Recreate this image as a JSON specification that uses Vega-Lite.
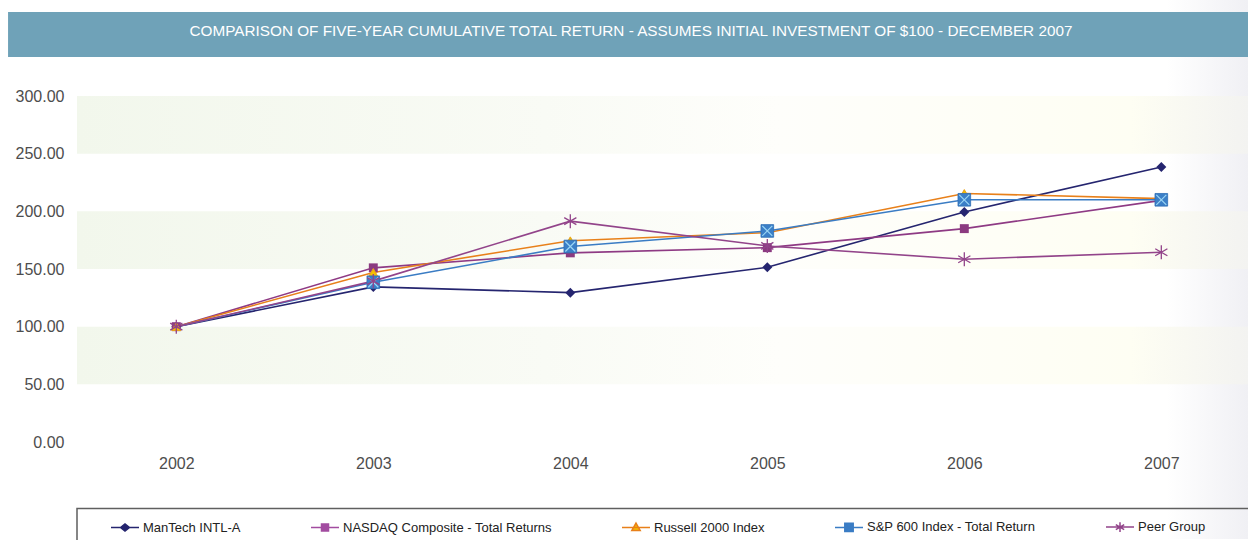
{
  "$schema": "https://vega.github.io/schema/vega-lite/v6.json",
  "width": 1171,
  "height": 346,
  "autosize": "none",
  "padding": {"left": 77, "top": 96, "right": 0, "bottom": 98},
  "background": "white",
  "config": {"view": {"stroke": null}, "font": "Liberation Sans, sans-serif"},
  "datasets": {
    "returns": [
      {"year": 2002, "series": "ManTech INTL-A", "value": 100},
      {"year": 2003, "series": "ManTech INTL-A", "value": 134.5},
      {"year": 2004, "series": "ManTech INTL-A", "value": 129.5},
      {"year": 2005, "series": "ManTech INTL-A", "value": 151.5},
      {"year": 2006, "series": "ManTech INTL-A", "value": 199.5},
      {"year": 2007, "series": "ManTech INTL-A", "value": 238.5},
      {"year": 2002, "series": "NASDAQ Composite - Total Returns", "value": 100},
      {"year": 2003, "series": "NASDAQ Composite - Total Returns", "value": 151},
      {"year": 2004, "series": "NASDAQ Composite - Total Returns", "value": 164},
      {"year": 2005, "series": "NASDAQ Composite - Total Returns", "value": 168.5},
      {"year": 2006, "series": "NASDAQ Composite - Total Returns", "value": 185},
      {"year": 2007, "series": "NASDAQ Composite - Total Returns", "value": 209.5},
      {"year": 2002, "series": "Russell 2000 Index", "value": 100},
      {"year": 2003, "series": "Russell 2000 Index", "value": 147},
      {"year": 2004, "series": "Russell 2000 Index", "value": 174.5},
      {"year": 2005, "series": "Russell 2000 Index", "value": 181.5},
      {"year": 2006, "series": "Russell 2000 Index", "value": 215.5},
      {"year": 2007, "series": "Russell 2000 Index", "value": 211},
      {"year": 2002, "series": "S&P 600 Index - Total Return", "value": 100},
      {"year": 2003, "series": "S&P 600 Index - Total Return", "value": 138.5},
      {"year": 2004, "series": "S&P 600 Index - Total Return", "value": 169.5},
      {"year": 2005, "series": "S&P 600 Index - Total Return", "value": 183},
      {"year": 2006, "series": "S&P 600 Index - Total Return", "value": 210},
      {"year": 2007, "series": "S&P 600 Index - Total Return", "value": 210},
      {"year": 2002, "series": "Peer Group", "value": 100},
      {"year": 2003, "series": "Peer Group", "value": 139.5},
      {"year": 2004, "series": "Peer Group", "value": 191.5},
      {"year": 2005, "series": "Peer Group", "value": 170},
      {"year": 2006, "series": "Peer Group", "value": 158.5},
      {"year": 2007, "series": "Peer Group", "value": 164.5}
    ],
    "bands": [
      {"lo": 50, "hi": 100},
      {"lo": 150, "hi": 200},
      {"lo": 250, "hi": 300}
    ],
    "one": [{}]
  },
  "data": {"name": "returns"},
  "layer": [
    {
      "data": {"name": "one"},
      "mark": {"type": "rect", "fill": {"gradient": "linear", "x1": 0, "y1": 0, "x2": 1, "y2": 0, "stops": [{"offset": 0, "color": "#ffffff"}, {"offset": 0.935, "color": "#ffffff"}, {"offset": 1, "color": "#f0f0f4"}]}},
      "encoding": {
        "x": {"datum": 2001.105, "type": "quantitative", "scale": {"domain": [2001.496, 2007.44], "nice": false, "zero": false}},
        "x2": {"datum": 2007.44},
        "y": {"datum": 383.3, "type": "quantitative", "scale": {"domain": [0, 300], "nice": false, "zero": true}},
        "y2": {"datum": -84.2}
      }
    },
    {
      "data": {"name": "bands"},
      "mark": {"type": "rect", "fill": {"gradient": "linear", "x1": 0, "y1": 0, "x2": 1, "y2": 0, "stops": [{"offset": 0, "color": "#f2f7ec"}, {"offset": 0.4, "color": "#f9fbf5"}, {"offset": 0.6, "color": "#fefefb"}, {"offset": 0.9, "color": "#fefef3"}, {"offset": 1, "color": "#f3f3f1"}]}},
      "encoding": {
        "x": {"datum": 2001.496, "type": "quantitative", "scale": {"domain": [2001.496, 2007.44], "nice": false, "zero": false}},
        "x2": {"datum": 2007.44},
        "y": {"field": "lo", "type": "quantitative", "scale": {"domain": [0, 300], "nice": false, "zero": true}},
        "y2": {"field": "hi"}
      }
    },
    {
      "data": {"name": "one"},
      "mark": {"type": "rect", "fill": "#6fa2b8"},
      "encoding": {
        "x": {"datum": 2001.146, "type": "quantitative", "scale": {"domain": [2001.496, 2007.44], "nice": false, "zero": false}},
        "x2": {"datum": 2007.44},
        "y": {"datum": 372.8, "type": "quantitative", "scale": {"domain": [0, 300], "nice": false, "zero": true}},
        "y2": {"datum": 333.8}
      }
    },
    {
      "data": {"name": "one"},
      "mark": {"type": "text", "color": "#ffffff", "fontSize": 15.3, "align": "center", "baseline": "middle", "font": "Liberation Sans, sans-serif"},
      "encoding": {
        "x": {"datum": 2004.308, "type": "quantitative", "scale": {"domain": [2001.496, 2007.44], "nice": false, "zero": false}},
        "y": {"datum": 356.4, "type": "quantitative", "scale": {"domain": [0, 300], "nice": false, "zero": true}},
        "text": {"value": "COMPARISON OF FIVE-YEAR CUMULATIVE TOTAL RETURN - ASSUMES INITIAL INVESTMENT OF $100 - DECEMBER 2007"}
      }
    },
    {
      "data": {"name": "one"},
      "mark": {"type": "rect", "fill": "transparent", "stroke": "#5f5f5f", "strokeWidth": 1.5},
      "encoding": {
        "x": {"datum": 2001.496, "type": "quantitative", "scale": {"domain": [2001.496, 2007.44], "nice": false, "zero": false}},
        "x2": {"datum": 2007.7},
        "y": {"datum": -57.7, "type": "quantitative", "scale": {"domain": [0, 300], "nice": false, "zero": true}},
        "y2": {"datum": -110}
      }
    },
    {
      "transform": [{"filter": "datum.series == 'ManTech INTL-A'"}],
      "mark": {"type": "line", "strokeWidth": 1.6, "color": "#25256f"},
      "encoding": {
        "x": {"field": "year", "type": "quantitative", "scale": {"domain": [2001.496, 2007.44], "nice": false, "zero": false},
              "axis": {"values": [2002, 2003, 2004, 2005, 2006, 2007], "format": "d", "title": null, "domain": false, "ticks": false, "tickSize": 0, "grid": false, "labelFontSize": 16, "labelColor": "#4d4d4d", "labelPadding": 13, "labelFont": "Liberation Sans, sans-serif", "zindex": 2}},
        "y": {"field": "value", "type": "quantitative", "scale": {"domain": [0, 300], "nice": false, "zero": true},
              "axis": {"values": [0, 50, 100, 150, 200, 250, 300], "format": ".2f", "title": null, "domain": false, "ticks": false, "tickSize": 0, "grid": false, "labelFontSize": 16, "labelColor": "#4d4d4d", "labelPadding": 13, "labelFont": "Liberation Sans, sans-serif", "zindex": 2}}
      }
    },
    {
      "transform": [{"filter": "datum.series == 'NASDAQ Composite - Total Returns'"}],
      "mark": {"type": "line", "strokeWidth": 1.6, "color": "#8e3a84"},
      "encoding": {
        "x": {"field": "year", "type": "quantitative", "scale": {"domain": [2001.496, 2007.44], "nice": false, "zero": false}},
        "y": {"field": "value", "type": "quantitative", "scale": {"domain": [0, 300], "nice": false, "zero": true}}
      }
    },
    {
      "transform": [{"filter": "datum.series == 'Russell 2000 Index'"}],
      "mark": {"type": "line", "strokeWidth": 1.6, "color": "#e8801a"},
      "encoding": {
        "x": {"field": "year", "type": "quantitative", "scale": {"domain": [2001.496, 2007.44], "nice": false, "zero": false}},
        "y": {"field": "value", "type": "quantitative", "scale": {"domain": [0, 300], "nice": false, "zero": true}}
      }
    },
    {
      "transform": [{"filter": "datum.series == 'S&P 600 Index - Total Return'"}],
      "mark": {"type": "line", "strokeWidth": 1.6, "color": "#3a7cc4"},
      "encoding": {
        "x": {"field": "year", "type": "quantitative", "scale": {"domain": [2001.496, 2007.44], "nice": false, "zero": false}},
        "y": {"field": "value", "type": "quantitative", "scale": {"domain": [0, 300], "nice": false, "zero": true}}
      }
    },
    {
      "transform": [{"filter": "datum.series == 'Peer Group'"}],
      "mark": {"type": "line", "strokeWidth": 1.6, "color": "#92448a"},
      "encoding": {
        "x": {"field": "year", "type": "quantitative", "scale": {"domain": [2001.496, 2007.44], "nice": false, "zero": false}},
        "y": {"field": "value", "type": "quantitative", "scale": {"domain": [0, 300], "nice": false, "zero": true}}
      }
    },
    {
      "transform": [{"filter": "datum.series == 'ManTech INTL-A'"}],
      "mark": {"type": "point", "shape": "diamond", "filled": true, "color": "#25256f", "size": 100, "opacity": 1},
      "encoding": {
        "x": {"field": "year", "type": "quantitative", "scale": {"domain": [2001.496, 2007.44], "nice": false, "zero": false}},
        "y": {"field": "value", "type": "quantitative", "scale": {"domain": [0, 300], "nice": false, "zero": true}}
      }
    },
    {
      "transform": [{"filter": "datum.series == 'NASDAQ Composite - Total Returns'"}],
      "mark": {"type": "point", "shape": "square", "filled": true, "color": "#8b3a80", "size": 80, "opacity": 1},
      "encoding": {
        "x": {"field": "year", "type": "quantitative", "scale": {"domain": [2001.496, 2007.44], "nice": false, "zero": false}},
        "y": {"field": "value", "type": "quantitative", "scale": {"domain": [0, 300], "nice": false, "zero": true}}
      }
    },
    {
      "transform": [{"filter": "datum.series == 'Russell 2000 Index'"}],
      "mark": {"type": "point", "shape": "triangle-up", "filled": true, "fill": "#f6c000", "stroke": "#eba21a", "strokeWidth": 1, "size": 80, "opacity": 1},
      "encoding": {
        "x": {"field": "year", "type": "quantitative", "scale": {"domain": [2001.496, 2007.44], "nice": false, "zero": false}},
        "y": {"field": "value", "type": "quantitative", "scale": {"domain": [0, 300], "nice": false, "zero": true}}
      }
    },
    {
      "transform": [{"filter": "datum.series == 'S&P 600 Index - Total Return' && datum.year > 2002"}],
      "mark": {"type": "point", "shape": "square", "filled": true, "fill": "#3b7fc7", "stroke": "#2f6fb5", "strokeWidth": 0.8, "size": 160, "opacity": 1},
      "encoding": {
        "x": {"field": "year", "type": "quantitative", "scale": {"domain": [2001.496, 2007.44], "nice": false, "zero": false}},
        "y": {"field": "value", "type": "quantitative", "scale": {"domain": [0, 300], "nice": false, "zero": true}}
      }
    },
    {
      "transform": [{"filter": "datum.series == 'S&P 600 Index - Total Return' && datum.year > 2002"}],
      "mark": {"type": "point", "shape": "M-1,-1L1,1M1,-1L-1,1", "filled": false, "stroke": "#9ad6f5", "strokeWidth": 1.2, "size": 100, "opacity": 1},
      "encoding": {
        "x": {"field": "year", "type": "quantitative", "scale": {"domain": [2001.496, 2007.44], "nice": false, "zero": false}},
        "y": {"field": "value", "type": "quantitative", "scale": {"domain": [0, 300], "nice": false, "zero": true}}
      }
    },
    {
      "transform": [{"filter": "datum.series == 'Peer Group'"}],
      "mark": {"type": "point", "shape": "M0,-1L0,1M-0.87,-0.5L0.87,0.5M-0.87,0.5L0.87,-0.5", "filled": false, "stroke": "#92448a", "strokeWidth": 1.3, "size": 196, "opacity": 1},
      "encoding": {
        "x": {"field": "year", "type": "quantitative", "scale": {"domain": [2001.496, 2007.44], "nice": false, "zero": false}},
        "y": {"field": "value", "type": "quantitative", "scale": {"domain": [0, 300], "nice": false, "zero": true}}
      }
    },
    {
      "mark": {"type": "point", "opacity": 0, "strokeWidth": 1.5},
      "encoding": {
        "x": {"field": "year", "type": "quantitative", "scale": {"domain": [2001.496, 2007.44], "nice": false, "zero": false}},
        "y": {"field": "value", "type": "quantitative", "scale": {"domain": [0, 300], "nice": false, "zero": true}},
        "shape": {"field": "series", "type": "nominal",
                  "scale": {"domain": ["ManTech INTL-A", "NASDAQ Composite - Total Returns", "Russell 2000 Index", "S&P 600 Index - Total Return", "Peer Group"],
                            "range": ["M-1,0L1,0M-0.32,0L0,-0.26L0.32,0L0,0.26Z", "M-1,0L1,0M-0.25,-0.25L0.25,-0.25L0.25,0.25L-0.25,0.25Z", "M-1,0L1,0M0,-0.32L0.3,0.22L-0.3,0.22Z", "M-1,0L1,0M-0.3,-0.3L0.3,-0.3L0.3,0.3L-0.3,0.3ZM-0.3,-0.3L0.3,0.3M0.3,-0.3L-0.3,0.3", "M-1,0L1,0M0,-0.35L0,0.35M-0.3,-0.18L0.3,0.18M-0.3,0.18L0.3,-0.18"]},
                  "legend": {"orient": "none", "legendX": 33, "legendY": 416, "direction": "horizontal", "title": null, "symbolSize": 784, "symbolStrokeWidth": 1.5, "symbolOpacity": 1, "labelFontSize": 13, "labelColor": "#222222", "labelFont": "Liberation Sans", "labelOffset": 3, "columnPadding": 67, "padding": 0, "labelLimit": 400, "zindex": 2}},
        "fill": {"field": "series", "type": "nominal",
                 "scale": {"domain": ["ManTech INTL-A", "NASDAQ Composite - Total Returns", "Russell 2000 Index", "S&P 600 Index - Total Return", "Peer Group"],
                           "range": ["#25256f", "#a24ca0", "#f6c000", "#3b7fc7", "transparent"]}},
        "stroke": {"field": "series", "type": "nominal",
                   "scale": {"domain": ["ManTech INTL-A", "NASDAQ Composite - Total Returns", "Russell 2000 Index", "S&P 600 Index - Total Return", "Peer Group"],
                             "range": ["#25256f", "#a24ca0", "#e8801a", "#3a7cc4", "#92448a"]}}
      }
    }
  ]
}
